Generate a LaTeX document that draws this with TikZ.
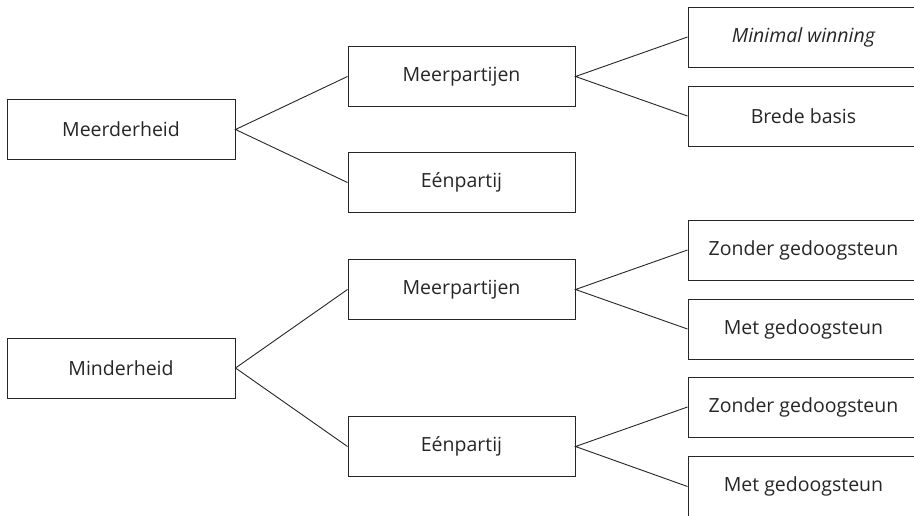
\documentclass[tikz,border=0pt]{standalone}
\usepackage{fontspec}
\setmainfont{Open Sans}
\begin{document}
\begin{tikzpicture}[x=1pt,y=-1pt,
  box/.style={draw=black!85,line width=1pt,minimum width=227pt,minimum height=60pt,inner sep=0pt,font=\fontsize{19.5}{21}\selectfont,text=black!85},
  rbox/.style={box,minimum width=231pt},
  conn/.style={draw=black!85,line width=0.9pt}]
\useasboundingbox (0,0) rectangle (914,515);
\node[box,minimum width=228pt] (meer) at (121,129.5) {Meerderheid};
\node[box,minimum width=228pt] (minder) at (121,368) {Minderheid};
\node[box] (mp1) at (461.5,76.5) {Meerpartijen};
\node[box] (ep1) at (461.5,182.5) {Eénpartij};
\node[box] (mp2) at (461.5,289.5) {Meerpartijen};
\node[box] (ep2) at (461.5,446.5) {Eénpartij};
\node[rbox] (mw) at (803.5,37) {\itshape Minimal winning};
\node[rbox] (bb) at (803.5,116) {Brede basis};
\node[rbox] (zg1) at (803.5,250) {Zonder gedoogsteun};
\node[rbox] (mg1) at (803.5,329) {Met gedoogsteun};
\node[rbox] (zg2) at (803.5,407) {Zonder gedoogsteun};
\node[rbox,minimum height=61pt] (mg2) at (803.5,486.5) {Met gedoogsteun};
\draw[conn] (mp1.west) -- (meer.east) -- (ep1.west);
\draw[conn] (mp2.west) -- (minder.east) -- (ep2.west);
\draw[conn] (mw.west) -- (mp1.east) -- (bb.west);
\draw[conn] (zg1.west) -- (mp2.east) -- (mg1.west);
\draw[conn] (zg2.west) -- (ep2.east) -- (mg2.west);
\end{tikzpicture}
\end{document}
